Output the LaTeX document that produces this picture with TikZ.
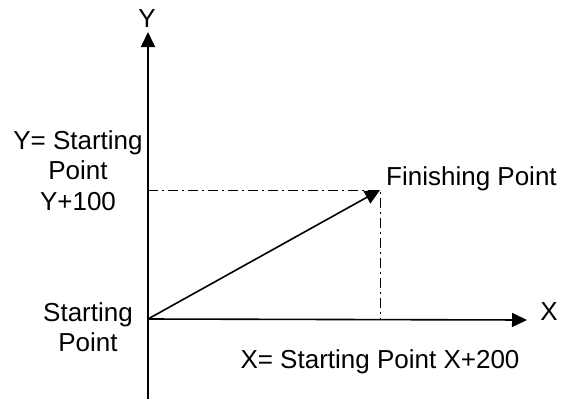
\documentclass[tikz,border=0pt]{standalone}
\usepackage{fontspec}
\setmainfont{Liberation Sans}
\usetikzlibrary{arrows.meta}

\begin{document}
\begin{tikzpicture}[x=1pt,y=-1pt,
	every node/.style={inner sep=0pt,font=\fontsize{26}{30.5}\selectfont},
	axis/.style={line width=1.6pt,-{Triangle[length=15pt,width=14pt]}},
	guide/.style={line width=1pt,dash pattern=on 10pt off 4pt on 2pt off 4pt}]
			\useasboundingbox (0,0) rectangle (572,399);
			\coordinate (O) at (148,319);
			\coordinate (ybot) at (148,399);
			\coordinate (ytop) at (148,32);
			\coordinate (xend) at (527,320);
			\coordinate (fin) at (380,190);
			\coordinate (finy) at (148,190);
			\coordinate (finx) at (380,320);
			\draw[axis] (ybot) -- (ytop);
			\draw[axis] (O) -- (xend);
			\draw[guide] (finy) -- (fin) -- (finx);
			\draw[axis] (O) -- (fin);
			\node (ylab) at (147,19) {Y};
			\node[anchor=base] (xlab) at (549,320) {X};
			\node[anchor=north,align=center] (ystartlab) at (78,130) {Y= Starting\\Point\\Y+100};
			\node[anchor=base west] (finlab) at (386,185) {Finishing Point};
			\node[anchor=north,align=center] (startlab) at (88,302) {Starting\\Point};
			\node[anchor=base] (xstartlab) at (380,368) {X= Starting Point X+200};
\end{tikzpicture}
\end{document}
